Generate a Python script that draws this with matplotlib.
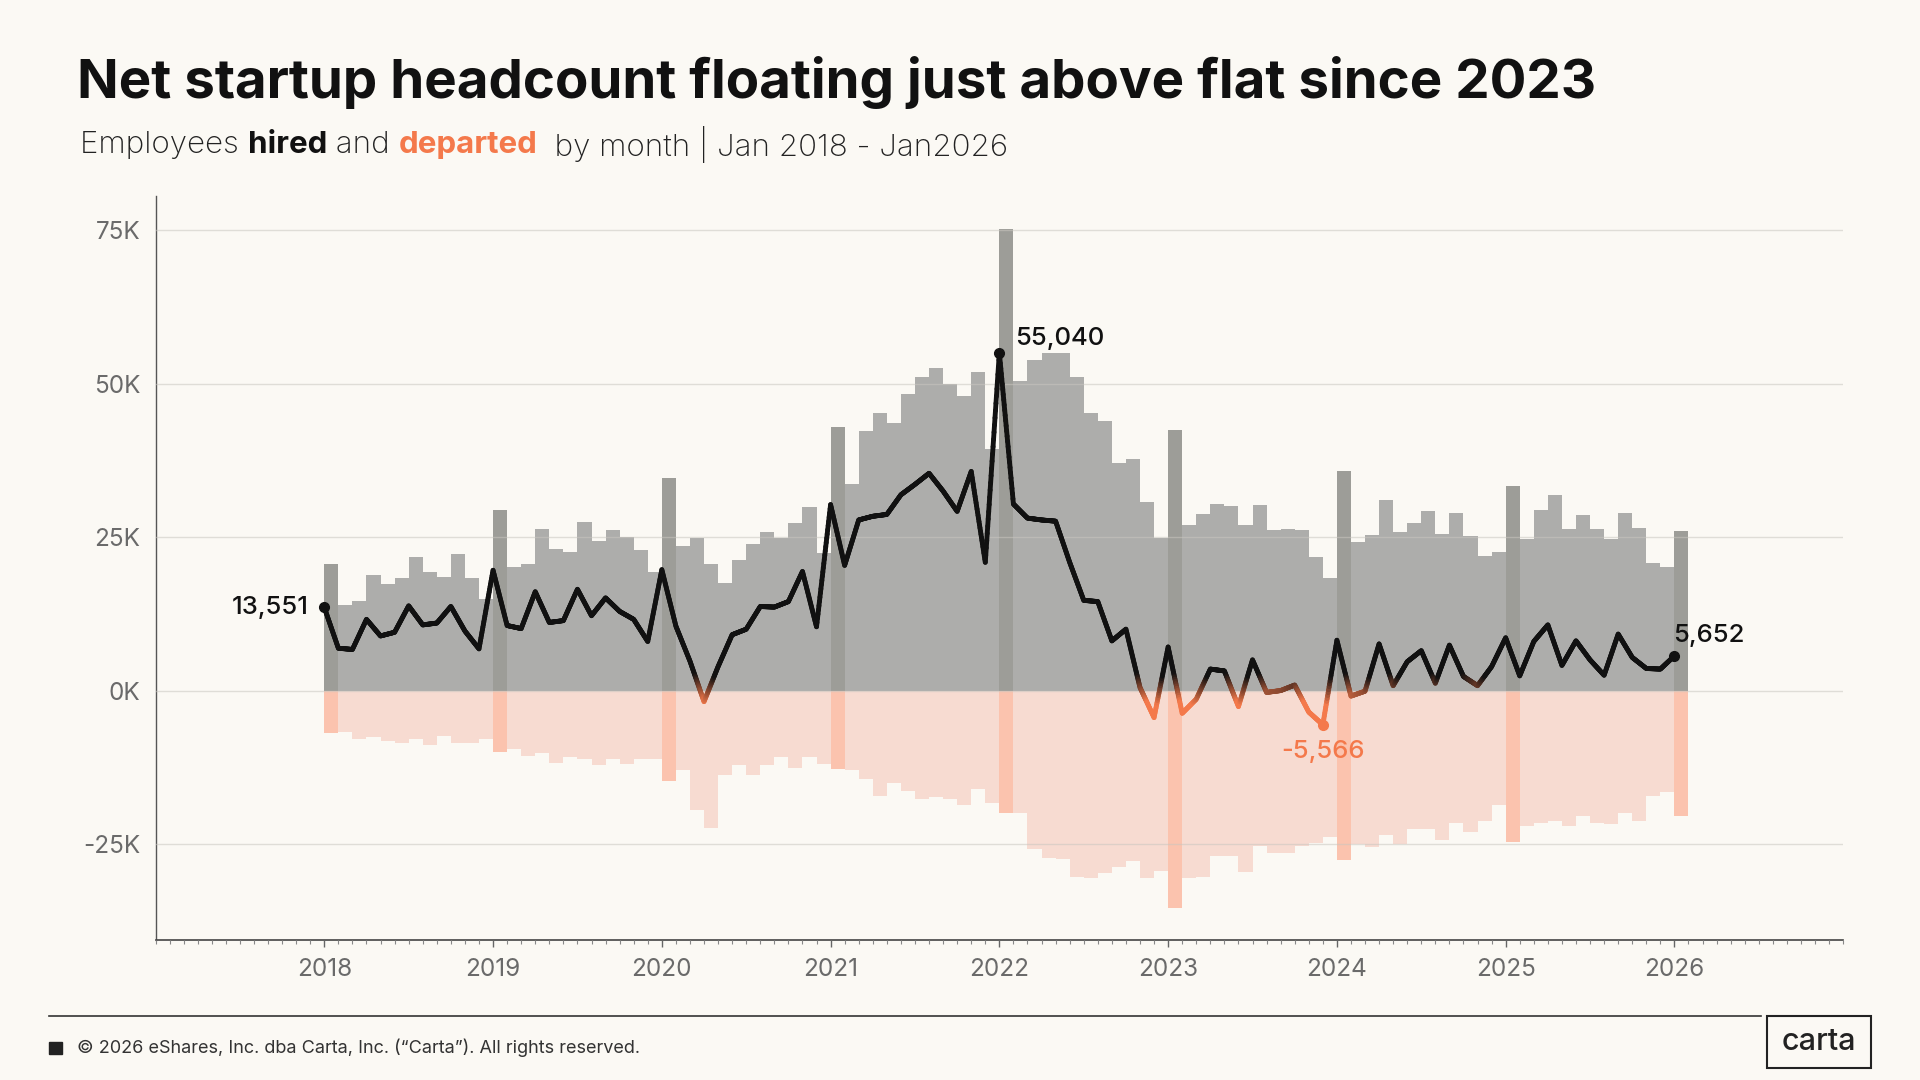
import numpy as np
import matplotlib.pyplot as plt
from matplotlib.collections import LineCollection
from matplotlib.colors import LinearSegmentedColormap
from matplotlib.patches import Rectangle
from matplotlib.lines import Line2D
from matplotlib.ticker import FixedLocator, FuncFormatter

plt.rcParams['font.family'] = ['Inter', 'Lato', 'DejaVu Sans']

# monthly values, Jan 2018 .. Jan 2026, in thousands of employees
hired = [20.7, 13.9, 14.6, 18.8, 17.4, 18.3, 21.7, 19.3, 18.5, 22.2, 18.3, 14.9,
         29.5, 20.1, 20.7, 26.4, 23.0, 22.5, 27.5, 24.4, 26.1, 25.0, 22.9, 19.3,
         34.6, 23.6, 24.8, 20.7, 17.6, 21.3, 23.9, 25.9, 24.8, 27.3, 29.9, 22.4,
         43.0, 33.6, 42.3, 45.3, 43.6, 48.3, 51.1, 52.6, 49.9, 48.0, 51.9, 39.4,
         75.2, 50.5, 53.9, 55.0, 55.0, 51.1, 45.3, 44.0, 37.0, 37.7, 30.8, 24.9,
         42.4, 27.0, 28.8, 30.4, 30.0, 27.0, 30.3, 26.2, 26.4, 26.1, 21.7, 18.3,
         35.8, 24.2, 25.4, 31.0, 25.8, 27.3, 29.2, 25.5, 28.9, 25.2, 22.0, 22.6,
         33.4, 24.7, 29.5, 31.8, 26.3, 28.6, 26.3, 24.7, 28.9, 26.5, 20.8, 20.2,
         26.0]

departed = [-6.9, -6.8, -7.9, -7.5, -8.2, -8.6, -7.9, -8.9, -7.4, -8.6, -8.6, -7.9,
            -10.0, -9.5, -10.7, -10.2, -11.8, -10.9, -11.1, -12.1, -11.1, -11.9, -11.1, -11.1,
            -14.7, -12.9, -19.5, -22.4, -13.8, -12.1, -13.7, -12.1, -10.9, -12.6, -10.8, -11.9,
            -12.7, -12.9, -14.4, -17.1, -15.0, -16.4, -17.6, -17.3, -17.6, -18.7, -16.1, -18.4,
            -20.0, -20.0, -25.8, -27.3, -27.5, -30.3, -30.6, -29.8, -28.8, -27.7, -30.6, -29.4,
            -35.4, -30.6, -30.3, -27.0, -27.0, -29.5, -25.4, -26.4, -26.4, -25.3, -24.8, -23.8,
            -27.6, -25.0, -25.5, -23.5, -25.0, -22.6, -22.6, -24.3, -21.6, -23.0, -21.2, -18.7,
            -24.7, -22.1, -21.6, -21.2, -22.1, -20.5, -21.6, -21.8, -19.9, -21.2, -17.1, -16.6,
            -20.5]

net = [13.551, 6.9, 6.7, 11.6, 8.9, 9.5, 13.8, 10.7, 11.0, 13.7, 9.7, 6.8,
       19.6, 10.6, 10.1, 16.1, 11.1, 11.4, 16.5, 12.2, 15.1, 12.9, 11.6, 8.0,
       19.7, 10.5, 4.8, -1.8, 3.9, 9.1, 10.0, 13.7, 13.6, 14.5, 19.4, 10.4,
       30.3, 20.4, 27.8, 28.4, 28.7, 31.9, 33.6, 35.4, 32.5, 29.2, 35.7, 20.9,
       55.04, 30.4, 28.1, 27.8, 27.6, 20.9, 14.7, 14.5, 8.1, 10.0, 0.5, -4.4,
       7.1, -3.7, -1.4, 3.5, 3.2, -2.6, 5.0, -0.3, 0.0, 0.9, -3.5, -5.566,
       8.2, -0.9, -0.1, 7.6, 0.8, 4.7, 6.5, 1.2, 7.4, 2.3, 0.8, 3.9,
       8.6, 2.4, 8.0, 10.7, 4.1, 8.1, 5.0, 2.5, 9.2, 5.4, 3.6, 3.5,
       5.652]

yearTicks = [2018, 2019, 2020, 2021, 2022, 2023, 2024, 2025, 2026]
valueTicks = [-25, 0, 25, 50, 75]

# point labels: (month index, text)
callouts = [(0, "13,551"), (48, "55,040"), (96, "5,652"), (71, "-5,566")]

BG = "#fbf9f4"
INK = "#111111"
ORANGE = "#f4794b"
HIRED = "#adadab"
HIRED_JAN = "#9d9d98"
DEPARTED = "#f7dbd1"
DEPARTED_JAN = "#fbc3ae"
TICK_GREY = "#6a6a6a"

fig = plt.figure(figsize=(19.2, 10.8), dpi=100, facecolor=BG)
ax = fig.add_axes([0.081, 0.1293, 0.879, 0.6893])
ax.set_facecolor(BG)

idx = np.arange(len(hired))
x = 2018 + idx / 12
isJan = idx % 12 == 0

ax.bar(x, hired, width=1/12, align="edge", linewidth=0, antialiased=False,
       color=[HIRED_JAN if j else HIRED for j in isJan], zorder=1)
ax.bar(x, departed, width=1/12, align="edge", linewidth=0, antialiased=False,
       color=[DEPARTED_JAN if j else DEPARTED for j in isJan], zorder=1)

# net line, black above zero fading to orange below
netArr = np.asarray(net)
segments = []
levels = []
for i in range(len(x) - 1):
    xs = np.linspace(x[i], x[i + 1], 30)
    ys = np.linspace(netArr[i], netArr[i + 1], 30)
    for k in range(len(xs) - 1):
        segments.append([(xs[k], ys[k]), (xs[k + 1], ys[k + 1])])
        levels.append((ys[k] + ys[k + 1]) / 2)
levels = np.clip((2.5 - np.asarray(levels)) / 4.5, 0, 1)
netCmap = LinearSegmentedColormap.from_list("net", [INK, ORANGE])
lc = LineCollection(segments, colors=netCmap(levels), linewidths=3.5,
                    capstyle="round", joinstyle="round", zorder=4)
ax.add_collection(lc)

for i, label in callouts:
    colour = ORANGE if net[i] < 0 else INK
    ax.plot(x[i], net[i], "o", color=colour, markersize=7, zorder=5)

labelStyle = dict(textcoords="offset points", fontsize=18.5, fontweight="medium")
ax.annotate(callouts[0][1], (x[0], net[0]), xytext=(-11, 0), ha="right",
            va="center", color=INK, **labelStyle)
ax.annotate(callouts[1][1], (x[48], net[48]), xytext=(11, 10), ha="left",
            va="center", color=INK, **labelStyle)
ax.annotate(callouts[2][1], (x[96], net[96]), xytext=(-1, 15), ha="left",
            va="center", color=INK, **labelStyle)
ax.annotate(callouts[3][1], (x[71], net[71]), xytext=(0, -19), ha="center",
            va="center", color=ORANGE, **labelStyle)

ax.set_xlim(2017, 2027)
ax.set_ylim(-40.7, 80.6)

ax.xaxis.set_major_locator(FixedLocator(yearTicks))
ax.xaxis.set_minor_locator(FixedLocator(2017 + np.arange(121) / 12))
ax.yaxis.set_major_locator(FixedLocator(valueTicks))
ax.yaxis.set_major_formatter(FuncFormatter(lambda v, p: f"{int(v)}K"))

ax.set_axisbelow(False)
ax.grid(axis="y", color="#c9c6c0", linewidth=1, alpha=0.55)
ax.tick_params(axis="x", which="major", length=5, width=1, color="#666666",
               labelsize=17.5, labelcolor=TICK_GREY, pad=8)
ax.tick_params(axis="x", which="minor", length=3, width=0.8, color="#888888")
ax.tick_params(axis="y", length=0, labelsize=17.5, labelcolor=TICK_GREY, pad=11)
for side in ["top", "right"]:
    ax.spines[side].set_visible(False)
ax.spines["left"].set_color("#555555")
ax.spines["bottom"].set_color("#444444")
ax.spines["left"].set_linewidth(1)
ax.spines["bottom"].set_linewidth(1.2)

# title and subtitle
fig.canvas.draw()
renderer = fig.canvas.get_renderer()

def fitText(xPos, yPos, text, targetPx, **kw):
    t = fig.text(xPos, yPos, text, fontsize=30, **kw)
    w = t.get_window_extent(renderer).width
    t.set_fontsize(30 * targetPx / w)
    return t

fitText(0.040, 0.9235, "Net startup headcount floating just above flat since 2023",
        1521, fontweight="bold", color=INK, va="center")

subParts = [("Employees ", "light", "#222222"),
            ("hired", "bold", INK),
            (" and ", "light", "#222222"),
            ("departed", "bold", ORANGE),
            ("  by month | Jan 2018 - Jan2026", "light", "#222222")]

def placeSubtitle(size):
    xPos = 80
    placed = []
    for text, weight, colour in subParts:
        t = fig.text(xPos / 1920, 0.8662, text, fontsize=size, fontweight=weight,
                     color=colour, va="center")
        xPos = t.get_window_extent(renderer).x1
        placed.append(t)
    return placed, xPos - 80

parts, width = placeSubtitle(22)
for t in parts:
    t.remove()
placeSubtitle(22 * 927 / width)

# footer
fig.add_artist(Line2D([0.0255, 0.917], [0.0593, 0.0593], color="#333333", linewidth=1.2))
fig.add_artist(Rectangle((0.0255, 0.0245), 0.0066, 0.0111, color="#222222"))
fig.text(0.0401, 0.0296,
         "\u00a9 2026 eShares, Inc. dba Carta, Inc. (\u201cCarta\u201d). All rights reserved.",
         fontsize=13, color="#333333", va="center")
fig.add_artist(Rectangle((0.9203, 0.0111), 0.0542, 0.0481, facecolor=BG,
                         edgecolor="#222222", linewidth=1.5))
fig.text(0.9474, 0.0352, "carta", fontsize=22, fontweight="medium", color="#222222",
         ha="center", va="center")

fig.savefig("out.png", dpi=100, facecolor=BG)
